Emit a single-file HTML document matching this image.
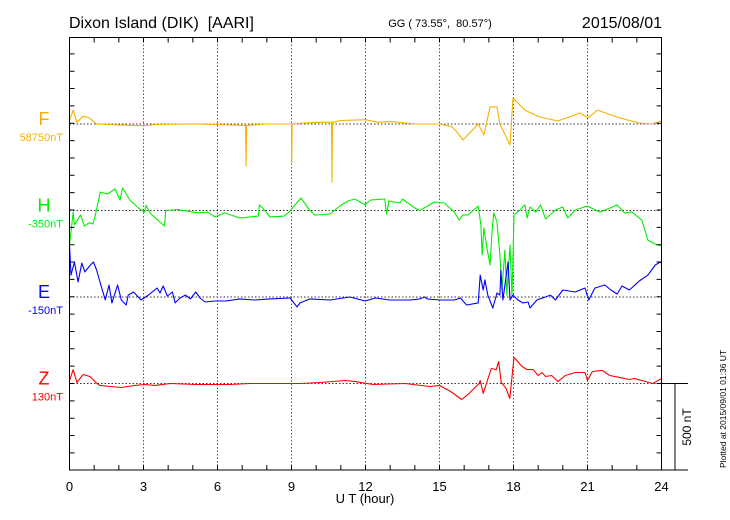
<!DOCTYPE html>
<html><head><meta charset="utf-8"><style>
body{margin:0;background:#fff;}
svg{display:block;font-family:"Liberation Sans",sans-serif;}
</style></head><body>
<svg id="c" width="730" height="520" viewBox="0 0 730 520">
<text x="69" y="28" font-size="16" xml:space="preserve" style="white-space:pre">Dixon Island (DIK)  [AARI]</text>
<text x="440" y="27" font-size="11" text-anchor="middle" xml:space="preserve" style="white-space:pre">GG ( 73.55°,  80.57°)</text>
<text x="662" y="28" font-size="16" text-anchor="end">2015/08/01</text>
<text x="365" y="503" font-size="13" text-anchor="middle">U T (hour)</text>
<text transform="translate(726,468) rotate(-90)" font-size="8.5">Plotted at 2015/09/01 01:36 UT</text>
<text transform="translate(691,427) rotate(-90)" font-size="12" text-anchor="middle">500 nT</text>
<g id="grid"></g>
<g id="series"></g>
<g id="axes"></g>
</svg>
<script>
const xTicks=[0,3,6,9,12,15,18,21,24];
const fHours=[0,0.15,0.3,0.55,0.8,1.1,2,3,3.5,5,6,7,7.14,7.16,7.18,8,9,9.01,9.03,9.5,10,10.62,10.64,10.66,11,12,12.5,13,14,15,15.5,15.71,15.95,16.57,16.8,17.05,17.33,17.45,17.86,17.98,18.46,19.07,19.8,20.7,21.02,21.4,22.3,23.1,23.6,24];
const fValues=[20,80,10,45,35,0,-5,-10,-3,0,-3,-8,-8,-241,-8,0,0,-230,0,5,10,10,-333,10,20,25,10,15,0,0,-15,-46,-92,0,-63,98,98,0,-120,150,80,40,17,63,35,80,35,6,0,17];
const hHours=[0,0.15,0.2,0.45,0.6,0.8,0.95,1.05,1.25,1.55,1.85,2.05,2.15,2.45,2.8,3.05,3.1,3.3,3.85,3.9,4.4,5.2,5.6,5.9,6.3,6.9,7.65,7.7,7.92,8.13,8.7,8.9,9.38,9.75,9.95,10.56,10.96,11.3,11.57,11.98,12.2,12.78,12.86,12.95,13.4,13.5,14,14.2,14.8,15.2,15.6,15.8,15.95,16.15,16.57,16.68,16.73,16.8,16.92,17.05,17.13,17.2,17.33,17.45,17.53,17.65,17.73,17.86,17.94,18.02,18.26,18.46,18.55,18.67,18.9,19.1,19.3,19.7,20,20.2,20.5,21,21.5,21.9,22.2,22.5,22.8,23.2,23.45,23.75,24];
const hValues=[-198,-9,-83,-26,-89,-70,-78,-26,106,95,124,60,130,60,14,-9,30,-20,-89,0,6,-14,-9,-37,-14,-43,-32,32,0,-37,-32,-9,72,0,-26,-20,26,55,66,32,60,66,-20,55,43,66,14,0,49,43,-9,-55,-26,-26,26,-83,-256,-100,-216,-313,-124,-14,-66,-256,-457,-227,-486,-198,-497,-26,3,32,-43,20,-9,32,-49,3,20,-43,3,26,-9,14,32,-14,-9,-55,-170,-193,-204];
const eHours=[0,0.06,0.2,0.35,0.5,0.62,0.85,0.97,1.1,1.25,1.45,1.6,1.72,1.95,2.1,2.3,2.38,2.6,2.9,3.2,3.55,3.67,3.8,3.97,4.17,4.28,4.48,4.7,4.9,5.12,5.29,5.5,5.9,6.35,6.9,7.5,8.13,8.95,9.22,9.35,9.75,10.56,11.37,11.98,12.4,13,13.8,14.2,14.4,14.5,15,15.6,15.85,16.1,16.57,16.65,16.77,16.84,16.96,17.16,17.33,17.45,17.49,17.57,17.78,17.86,17.98,18.18,18.38,18.59,18.67,18.95,19.5,19.7,20,20.5,20.9,21.05,21.3,21.7,21.95,22.2,22.4,22.7,23.1,23.45,23.75,23.95,24];
const eValues=[299,126,201,86,195,144,184,201,155,80,-17,69,-34,69,-17,-46,11,29,-17,11,52,23,63,6,29,-34,-6,11,-11,29,-6,-29,-23,-23,-11,-17,-11,-6,-57,-34,-11,-17,0,-23,-6,-17,-17,-11,0,-11,-17,-17,-6,-46,-34,126,40,98,11,-63,23,11,155,-17,201,-17,11,-17,-34,-29,-63,-17,11,-17,40,29,52,-17,52,69,40,17,63,40,92,126,184,201,195];
const zHours=[0,0.15,0.3,0.55,0.83,1.07,1.23,1.65,2.1,2.65,3.05,3.45,4.1,5.1,5.7,6.5,7.3,9.35,10.15,11.2,11.6,12.3,13.6,14.6,15,15.45,15.9,16.2,16.6,16.65,16.77,17.1,17.3,17.4,17.5,17.7,17.85,18.02,18.34,18.55,18.8,19,19.15,19.3,19.55,19.8,20.1,20.5,20.9,21,21.2,21.6,21.9,22.3,22.7,22.9,23.5,23.65,24];
const zValues=[17,80,6,52,40,6,-11,-17,-23,-11,-6,-11,0,-6,-6,-6,0,0,6,17,11,-6,0,-17,-11,-46,-92,-57,0,17,-57,86,80,126,6,-29,-86,150,98,80,80,46,63,40,46,11,46,63,63,17,69,75,46,35,23,29,6,0,29];
const series=[
 {name:'f',hours:fHours,values:fValues,base:124,color:'#f7b000',label:'F',off:'58750nT'},
 {name:'h',hours:hHours,values:hValues,base:210.5,color:'#00ee00',label:'H',off:'-350nT'},
 {name:'e',hours:eHours,values:eValues,base:297,color:'#0000ff',label:'E',off:'-150nT'},
 {name:'z',hours:zHours,values:zValues,base:383.5,color:'#ff0000',label:'Z',off:'130nT'}];
const X0=69.5,X1=661.5,Y0=37.5,Y1=470,PXNT=87/500;
const xs=h=>X0+(X1-X0)*h/24;
const ys=(v,b)=>b-v*PXNT;
const NS='http://www.w3.org/2000/svg';
function mk(tag,attrs,parent){const e=document.createElementNS(NS,tag);for(const k in attrs)e.setAttribute(k,attrs[k]);parent.appendChild(e);return e;}
const grid=document.getElementById('grid'),sg=document.getElementById('series'),ax=document.getElementById('axes');
xTicks.forEach(t=>{if(t>0&&t<24){const l=mk('line',{x1:xs(t),x2:xs(t),y1:Y0,y2:Y1,stroke:'#555','stroke-dasharray':'1.5,2','stroke-width':1},grid);

}
const tx=mk('text',{x:xs(t),y:491,'font-size':13,'text-anchor':'middle'},ax);tx.textContent=t;

});
series.forEach(s=>{
 const gl=mk('line',{x1:X0,x2:X1,y1:s.base,y2:s.base,stroke:'#333','stroke-dasharray':'1.5,2','stroke-width':1},grid);
 
 
 let d='';s.hours.forEach((h,i)=>{d+=(i?'L':'M')+xs(h).toFixed(1)+','+ys(s.values[i],s.base).toFixed(1);});
 const p=mk('path',{d:d,fill:'none',stroke:s.color,'stroke-width':1.1,'stroke-linejoin':'round'},sg);
 
 
 const lt=mk('text',{x:44,y:s.base+1,'font-size':18,fill:s.color,'text-anchor':'middle'},ax);lt.textContent=s.label;
 
 
 const ot=mk('text',{x:63,y:s.base+17,'font-size':11,fill:s.color,'text-anchor':'end'},ax);ot.textContent=s.off;
 
 
});
const box=mk('rect',{x:X0,y:Y0,width:X1-X0,height:Y1-Y0,fill:'none',stroke:'#000','stroke-width':1},ax);


let td='';
for(let h=1;h<24;h++){td+='M'+xs(h)+','+Y0+'v5M'+xs(h)+','+Y1+'v-5';}
for(let k=-5;k<=20;k++){const y=383.5-k*17.35;if(y>Y0+1&&y<Y1-1)td+='M'+X0+','+y+'h5M'+X1+','+y+'h-5';}
td+='M'+X1+',383.5H688M675,383.5V'+Y1+'M'+X1+','+Y1+'H688';
const tk=mk('path',{d:td,stroke:'#000','stroke-width':1,fill:'none'},ax);


</script>
</body></html>
